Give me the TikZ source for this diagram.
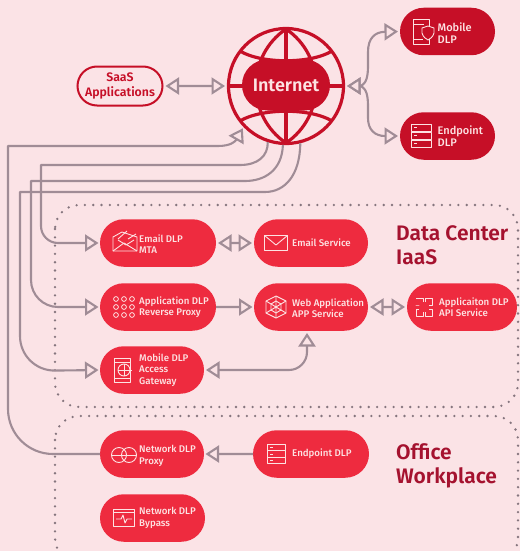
\documentclass[tikz,border=0pt]{standalone}
\usepackage{fontspec}
\setmainfont{Fira Sans Medium}[BoldFont={Fira Sans SemiBold}]
\usetikzlibrary{arrows.meta,shapes.misc}
\definecolor{bgc}{HTML}{FBE3E6}
\definecolor{pillc}{HTML}{EE2B3F}
\definecolor{darkc}{HTML}{C60F27}
\definecolor{headc}{HTML}{A5122F}
\definecolor{linec}{HTML}{A08C96}
\definecolor{dotc}{HTML}{85757E}
\definecolor{iconc}{HTML}{FDE3E3}
\tikzset{
  x=1pt,y=-1pt,
  pillbase/.style={rounded rectangle,draw=none,inner sep=0pt,outer sep=0pt},
  pilltext/.style={anchor=west,align=left,text=iconc,font=\fontsize{9.7}{11.4}\selectfont,inner sep=0pt},
  conn/.style={draw=linec,line width=2.1pt,line join=round},
  otip/.tip={Triangle[open,length=13.5pt,width=17pt,line width=2.1pt,fill=bgc]},
  arr/.style={conn,-{otip},shorten >=1.5pt},
  darr/.style={conn,{otip}-{otip},shorten >=2pt,shorten <=2pt},
  zone/.style={draw=dotc,line width=2.6pt,line cap=round,dash pattern=on 0pt off 8.3pt,rounded corners=24pt},
  head/.style={anchor=north west,align=left,text=headc,font=\fontsize{21}{24.5}\selectfont\bfseries,inner sep=0pt},
  ic/.style={draw=iconc,line width=0.9pt,fill=none,line join=round},
  gl/.style={draw=darkc,line width=3.2pt,fill=none}
}
% name, x0, x1, yc, colour
\newcommand{\pillnode}[5]{\node[pillbase,fill=#5,minimum width=#3pt-#2pt,minimum height=47.5pt] (#1) at ({(#2+#3)/2},#4) {};}
\begin{document}
\begin{tikzpicture}
\useasboundingbox (0,0) rectangle (520,551);
\fill[bgc] (0,0) rectangle (520,551);
\clip (0,0) rectangle (520,551);

% zones
\draw[zone] (55,205) rectangle (518,407);
\draw[zone] (55,416) rectangle (518,562);

% globe
\node[circle,draw=none,minimum size=118pt,inner sep=0pt,outer sep=0pt] (globe) at (286,86) {};
\begin{scope}[shift={(286,86)}]
  \draw[gl] (0,0) circle[radius=57.5];
  \draw[gl] (0,-57) -- (0,57);
  \draw[gl] (-57,0) -- (57,0);
  \draw[gl] (0,-57) .. controls (-40,-30) and (-40,30) .. (0,57);
  \draw[gl] (0,-57) .. controls (40,-30) and (40,30) .. (0,57);
  \draw[gl] (-46,-35) .. controls (-25,-22) and (25,-22) .. (46,-35);
  \draw[gl] (-46,35) .. controls (-25,22) and (25,22) .. (46,35);
\end{scope}
\node[rounded rectangle,fill=darkc,minimum width=88pt,minimum height=51pt,inner sep=0pt,text=iconc,font=\fontsize{18}{20}\selectfont\bfseries] (inet) at (286,85) {Internet};

% SaaS
\node[rounded rectangle,draw=darkc,line width=2pt,fill=bgc,minimum width=85pt,minimum height=39pt,inner sep=0pt,align=center,text=darkc,font=\fontsize{12.3}{14.5}\selectfont\bfseries] (saas) at (120,86) {SaaS\\Applications};

% pills
\pillnode{mob}{400}{495}{31.5}{darkc}
\pillnode{endp}{400}{495}{136}{darkc}
\pillnode{email}{100}{216}{243}{pillc}
\pillnode{mail}{254}{368}{243}{pillc}
\pillnode{appdlp}{100}{216}{307}{pillc}
\pillnode{web}{254}{368}{307}{pillc}
\pillnode{api}{407}{517}{307}{pillc}
\pillnode{maccess}{100}{204}{370}{pillc}
\pillnode{netp}{100}{204}{454}{pillc}
\pillnode{endl}{253}{369}{454}{pillc}
\pillnode{netb}{100}{205}{518}{pillc}

% pill texts
\node[pilltext,font=\fontsize{11}{12.7}\selectfont] (t1) at (437.5,33) {Mobile\\DLP};
\node[pilltext,font=\fontsize{11}{12.7}\selectfont] (t2) at (437.5,136) {Endpoint\\DLP};
\node[pilltext] (t3) at (139,244) {Email DLP\\MTA};
\node[pilltext] (t4) at (292,243) {Email Service};
\node[pilltext] (t5) at (139,307) {Application DLP\\Reverse Proxy};
\node[pilltext] (t6) at (292,308) {Web Application\\APP Service};
\node[pilltext] (t7) at (439,307) {Applicaiton DLP\\API Service};
\node[pilltext] (t8) at (139,370) {Mobile DLP\\Access\\Gateway};
\node[pilltext] (t9) at (139,456) {Network DLP\\Proxy};
\node[pilltext] (t10) at (292,454) {Endpoint DLP};
\node[pilltext] (t11) at (139,518) {Network DLP\\Bypass};

% headings
\node[head] (h1) at (396,225) {Data Center\\IaaS};
\node[head] (h2) at (396,443) {Office\\Workplace};

% connectors
\draw[darr] (saas) -- (globe);
\draw[darr] (globe.0) -- (360,86) .. controls (367,84) and (368,75) .. (368,65) -- (368,52) .. controls (368,38) and (375,32) .. (mob.west);
\draw[darr] (globe.0) -- (360,86) .. controls (367,88) and (368,97) .. (368,107) -- (368,118) .. controls (368,130) and (375,136) .. (endp.west);
\draw[arr] (netp.west) [rounded corners=45pt] -- (8,454) [sharp corners] -- (8,146) -- (218,146) .. controls (230,146) and (235,142) .. (globe.-136);
\draw[arr] (globe.-108) .. controls (268,156) and (258,165) .. (240,165) -- (41,165) [rounded corners=17pt] -- (41,243) -- (email.west);
\draw[arr] (globe.-93) .. controls (282,170) and (265,181) .. (245,181) -- (31,181) [rounded corners=27pt] -- (31,307) -- (appdlp.west);
\draw[arr] (globe.-76) .. controls (300,175) and (285,192) .. (265,192) -- (20,192) [rounded corners=35pt] -- (20,371) -- (maccess.west);
\draw[darr] (email) -- (mail);
\draw[arr] (appdlp) -- (web);
\draw[darr] (web) -- (api);
\draw[arr] (endl) -- (netp);
\draw[conn,{otip}-{otip},shorten <=2pt,shorten >=2pt] (maccess.east) [rounded corners=18pt] -- (307,370) -- (307,331);

% icons
\begin{scope}[shift={(421,32)},ic]
  \draw[ic] (8,-5) -- (8,-13) -- (-8,-13) -- (-8,12) -- (8,12) -- (8,7);
  \draw[ic] (-8,-8) -- (3,-8) (-8,7) -- (2,7);
  \draw[ic] (1,-4) -- (7,-6) -- (13,-4) -- (13,1) .. controls (12,5) and (9,7) .. (7,8) .. controls (5,7) and (2,5) .. (1,1) -- cycle;
\end{scope}
\begin{scope}[shift={(421,136)},ic]
  \draw[ic] (-10,-12) rectangle (10,-5);
  \draw[ic] (-10,-4) rectangle (10,3);
  \draw[ic] (-10,4) rectangle (10,11);
  \draw[ic] (-7,-8.5) -- (-4,-8.5) (-7,-.5) -- (-4,-.5) (-7,7.5) -- (-4,7.5);
\end{scope}
\begin{scope}[shift={(125,243)},ic]
  \draw[ic] (-12,-6) -- (-12,8) -- (12,8) -- (12,-6) -- (-3,-11) -- cycle;
  \draw[ic] (-12,8) -- (-1,0) -- (12,8) (-7,-4) -- (2,-12) (3,-4) -- (11,-9);
  \draw[ic] (-7,-3) -- (1,2) -- (9,-3);
\end{scope}
\begin{scope}[shift={(276,243)},ic]
  \draw[ic] (-11.5,-7.5) rectangle (11.5,7.5);
  \draw[ic] (-11.5,-7.5) -- (0,2) -- (11.5,-7.5);
\end{scope}
\begin{scope}[shift={(124,307)},ic]
  \foreach \xx in {-8,0,8}{\foreach \yy in {-8,0,8}{\draw[ic,line width=.8pt] (\xx,\yy) circle[radius=2.4];}}
\end{scope}
\begin{scope}[shift={(276,307)},ic]
  \draw[ic] (-10,-6) -- (0,-11) -- (10,-6) -- (10,6) -- (0,11) -- (-10,6) -- cycle;
  \draw[ic] (-5,-3) -- (0,-6) -- (5,-3) -- (5,3) -- (0,6) -- (-5,3) -- cycle;
  \draw[ic] (0,-11) -- (0,11) (-10,-6) -- (10,6) (-10,6) -- (10,-6);
\end{scope}
\begin{scope}[shift={(424,307)},ic]
  \draw[ic] (-8,-9) -- (-1,-9) -- (-1,-5) (1,-5) -- (1,-9) -- (8,-9) -- (8,-2) -- (5,-2) (5,2) -- (8,2) -- (8,9) -- (1,9) -- (1,5) (-1,5) -- (-1,9) -- (-8,9) -- (-8,2) -- (-5,2) (-5,-2) -- (-8,-2) -- cycle;
\end{scope}
\begin{scope}[shift={(122,370)},ic]
  \draw[ic] (-8,-12) rectangle (8,12);
  \draw[ic] (-8,-8) -- (8,-8) (-8,8) -- (8,8);
  \draw[ic] (2,0) circle[radius=6];
  \draw[ic] (-4,0) -- (10,0) (2,-6) -- (2,6);
\end{scope}
\begin{scope}[shift={(124,455)},ic]
  \draw[ic] (-5,0) circle[radius=7.5];
  \draw[ic] (5,0) circle[radius=7.5];
  \draw[ic] (-12,0) -- (12,0);
\end{scope}
\begin{scope}[shift={(276,454)},ic]
  \draw[ic] (-9,-9.5) rectangle (9,-3.5);
  \draw[ic] (-9,-3.5) rectangle (9,3);
  \draw[ic] (-9,3) rectangle (9,9.5);
  \draw[ic] (-6,-6.5) -- (-3,-6.5) (-6,0) -- (-3,0) (-6,6.5) -- (-3,6.5);
\end{scope}
\begin{scope}[shift={(124,518)},ic]
  \draw[ic] (-10.5,-8.5) rectangle (10.5,8.5);
  \draw[ic] (-10.5,-5.5) -- (10.5,-5.5);
  \draw[ic] (-8,1) -- (-3,1) -- (-1,-3) -- (1,5) -- (3,1) -- (8,1);
\end{scope}
\end{tikzpicture}
\end{document}
